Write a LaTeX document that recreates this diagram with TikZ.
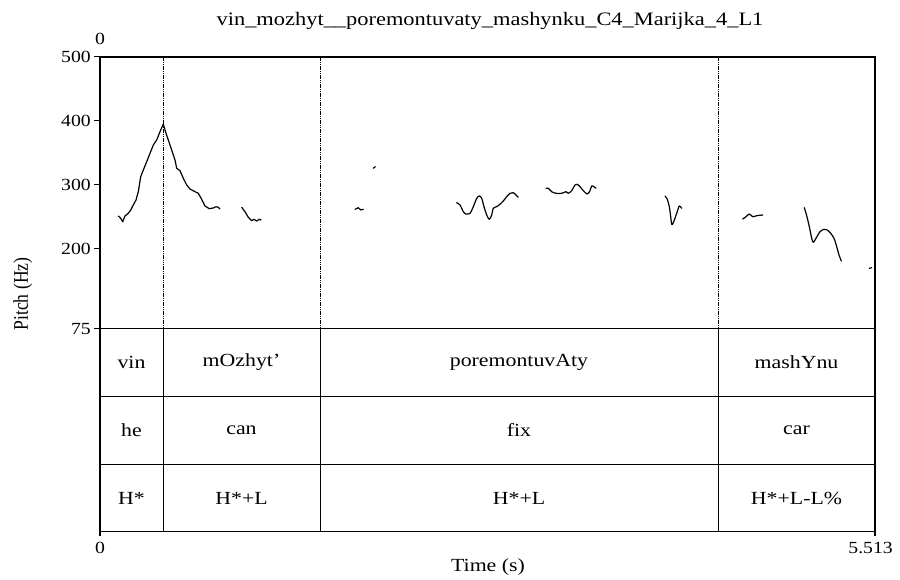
\documentclass[tikz,border=0pt]{standalone}
\usepackage{fontspec}
\setmainfont{Liberation Serif}
\newfontfamily\tf{Liberation Serif}[FakeStretch=1.18]
\newfontfamily\nf{Liberation Serif}[FakeStretch=1.16]
\newfontfamily\pf{Liberation Serif}
\begin{document}
\begin{tikzpicture}[x=1bp,y=-1bp,
  txt/.style={inner sep=0pt,font=\tf\fontsize{18.5bp}{20bp}\selectfont},
  ttl/.style={inner sep=0pt,font=\tf\fontsize{19bp}{20bp}\selectfont},
  num/.style={inner sep=0pt,font=\nf\fontsize{17bp}{19bp}\selectfont},
  frame/.style={line width=1.8bp},
  tierline/.style={line width=1.4bp},
  divdot/.style={line width=0.9bp,dash pattern=on 1.2bp off 0.6bp},
  divsolid/.style={line width=0.9bp},
  tick/.style={line width=1.3bp},
  f0/.style={line width=1.2bp,line join=round,line cap=round}]
\useasboundingbox (0,0) rectangle (900,580);
% title
\node[ttl,anchor=base] (title) at (490,26) {vin\_mozhyt\_\_poremontuvaty\_mashynku\_C4\_Marijka\_4\_L1};
% dividers
\draw[divdot] (163,56.7) -- (163,328.3);
\draw[divdot] (320,56.7) -- (320,328.3);
\draw[divdot] (718,56.7) -- (718,328.3);
\draw[divsolid] (163,328.3) -- (163,531.5);
\draw[divsolid] (320,328.3) -- (320,531.5);
\draw[divsolid] (718,328.3) -- (718,531.5);
% tiers
\draw[tierline] (100,328.3) -- (875,328.3);
\draw[tierline] (100,396.3) -- (875,396.3);
\draw[tierline] (100,464.3) -- (875,464.3);
% frame
\draw[frame] (100,56.7) rectangle (875,531.5);
% ticks
\foreach \yy in {56.7,120.7,184.7,248.7,328.3} \draw[tick] (94,\yy) -- (100,\yy);
\draw[tick] (100,531.5) -- (100,536);
\draw[tick] (875,531.5) -- (875,536);
% axis labels
\node[num,anchor=base] (t0) at (100,45) {0};
\node[num,anchor=base east] (y500) at (91,62.5) {500};
\node[num,anchor=base east] (y400) at (91,126.5) {400};
\node[num,anchor=base east] (y300) at (91,190.5) {300};
\node[num,anchor=base east] (y200) at (91,254.5) {200};
\node[num,anchor=base east] (y75) at (91,334) {75};
\node[num,anchor=base] (b0) at (100,553) {0};
\node[num,anchor=base east] (bend) at (893,553) {5.513};
\node[txt,anchor=base] (xlab) at (488,571) {Time (s)};
\node[inner sep=0pt,rotate=90,font=\pf\fontsize{17.6bp}{19bp}\selectfont] (ylab) at (23,294) {\scalebox{1}[1.18]{Pitch (Hz)}};
% tier texts
\node[txt] (w1) at (131.5,362.3) {vin};
\node[txt] (w2) at (241.5,362.3) {mOzhyt’};
\node[txt] (w3) at (519,362.3) {poremontuvAty};
\node[txt] (w4) at (796.5,362.3) {mashYnu};
\node[txt] (g1) at (131.5,430.3) {he};
\node[txt] (g2) at (241.5,430.3) {can};
\node[txt] (g3) at (519,430.3) {fix};
\node[txt] (g4) at (796.5,430.3) {car};
\node[txt] (p1) at (131.5,498) {H*};
\node[txt] (p2) at (241.5,498) {H*+L};
\node[txt] (p3) at (519,498) {H*+L};
\node[txt] (p4) at (796.5,498) {H*+L-L\%};
% pitch contour
\draw[f0] plot coordinates {(118.3,216) (120.5,218) (122.7,221.7) (125,216) (128.3,213.3) (130.7,210) (133.3,205) (136,200) (138.3,191.7) (140.7,176.7) (143.3,170) (146.7,161.7) (150,153.3) (153.3,145) (156.7,140) (160,131.7) (163.3,124) (166,133.3) (168.3,140) (171.7,150) (175,160) (176.7,168.3) (180,170.7) (183.3,178.3) (186.7,185) (190,189) (195,191.7) (198.3,193.3) (201.7,199.3) (205,206) (209.3,208.7) (213.3,208) (216,206.7) (218.3,207.3) (220,209)};
\draw[f0] plot coordinates {(241.7,207.3) (245,211.7) (248.3,217.3) (251.7,220.7) (254,219.3) (256.7,221) (259.3,219.3) (261,220)};
\draw[f0] plot coordinates {(355,209.3) (358.3,207.7) (360.7,210) (363.3,209.3)};
\draw[f0] plot coordinates {(373.3,168.3) (375.3,166.7)};
\draw[f0] plot[smooth,tension=0.5] coordinates {(456.7,202.7) (460,205) (463.3,211.7) (466,214) (470,213.3) (473.3,206.7) (476.7,198.3) (479.3,196) (481.7,198.3) (484,206.7) (486.7,215) (489.3,219.3) (491.7,215) (493.3,208.3) (496.7,206.7) (500,204.3) (503.3,201) (506.7,196.7) (510,193.3) (513.3,192.7) (516,195) (518.3,197.3)};
\draw[f0] plot[smooth,tension=0.5] coordinates {(546,188.3) (548.3,188.3) (551.7,191.7) (556,193.3) (561.7,193.3) (566,191.7) (568.3,193.3) (571.7,190.7) (575,185) (577.3,184.3) (580,186.7) (583.3,190.7) (587.3,194) (590,190.7) (591.7,186) (594,186.7) (596,188.3)};
\draw[f0] plot[smooth,tension=0.5] coordinates {(665,196) (667.3,199.3) (669.3,206.7) (670.7,216.7) (671.7,224.3) (673.3,222.7) (676.7,213.3) (679.3,206) (681.7,208.3)};
\draw[f0] plot[smooth,tension=0.5] coordinates {(742.7,219) (746,216.7) (749.3,214) (752.7,216.7) (756.7,215.7) (762.7,215)};
\draw[f0] plot[smooth,tension=0.5] coordinates {(804.3,207.7) (806.7,215.7) (809.3,226.7) (811.7,238.3) (813.3,242.3) (816,238.3) (820,231.7) (824,229.3) (827.3,230) (830.7,233.3) (834,238.3) (836.7,246.7) (839,255) (841.3,261)};
\draw[f0] plot coordinates {(869.3,268.3) (871.7,267.7)};
\end{tikzpicture}
\end{document}
